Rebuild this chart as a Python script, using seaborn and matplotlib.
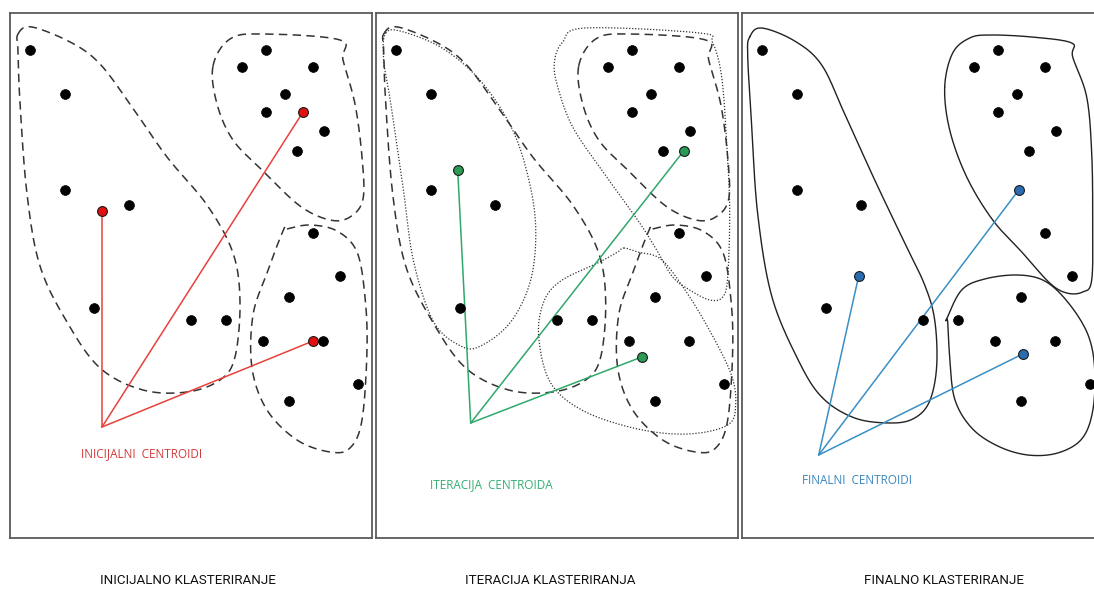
import numpy as np
import matplotlib
matplotlib.use("Agg")
import matplotlib.pyplot as plt
import seaborn as sns
import pandas as pd

sns.set_style("white")

# ---------------- data (panel-local pixel coordinates) ----------------
point_x = [30, 65, 65, 129, 94, 191, 226,
           266, 242, 313, 285, 266, 324, 297,
           313, 340, 289, 263, 323, 358, 289]
point_y = [50, 94, 190, 205, 308, 320, 320,
           50, 67, 67, 94, 112, 131, 151,
           233, 276, 297, 341, 341, 384, 401]

centroid_x = {"init": [102, 303, 313], "iter": [92, 318, 276], "final": [287, 127, 291]}
centroid_y = {"init": [211, 112, 341], "iter": [170, 151, 357], "final": [190, 276, 354]}
apex = {"init": (102, 427), "iter": (105, 423), "final": (87, 455)}

labels_centroid = {"init": "INICIJALNI  CENTROIDI", "iter": "ITERACIJA  CENTROIDA",
                   "final": "FINALNI  CENTROIDI"}
label_pos = {"init": (81, 454), "iter": (64, 485), "final": (70, 481)}
titles = ["INICIJALNO KLASTERIRANJE", "ITERACIJA KLASTERIRANJA", "FINALNO KLASTERIRANJE"]

# cluster outlines (control points)
init_left = [(18, 34), (32, 27), (72, 43), (100, 64), (130, 104), (167, 157), (207, 205),
             (233, 253), (240, 302), (235, 357), (220, 380), (187, 392), (143, 390),
             (100, 368), (67, 322), (40, 266), (27, 194), (20, 103), (18, 51)]
init_tr = [(213, 66), (230, 39), (263, 34), (340, 40), (343, 60), (355, 104), (362, 157),
           (363, 199), (350, 217), (330, 220), (300, 206), (263, 171), (233, 140), (217, 104)]
init_br = [(287, 229), (310, 225), (337, 231), (357, 252), (365, 297), (367, 350), (362, 420),
           (350, 448), (330, 452), (297, 440), (267, 410), (252, 368), (253, 315),
           (267, 273), (283, 231)]
iter_left = [(20, 33), (38, 32), (78, 49), (115, 81), (145, 126), (162, 175), (170, 227),
             (165, 280), (145, 322), (115, 346), (95, 346), (68, 322), (48, 262), (38, 192),
             (25, 103), (18, 60)]
iter_tr = [(189, 60), (197, 42), (219, 28), (334, 33), (347, 43), (356, 77), (361, 143),
           (364, 210), (362, 277), (357, 297), (344, 300), (324, 290), (307, 277),
           (291, 250), (274, 223), (241, 177), (207, 127), (191, 83)]
iter_br = [(258, 248), (272, 252), (295, 259), (318, 288), (342, 327), (365, 373), (370, 404),
           (362, 425), (322, 434), (272, 429), (218, 411), (185, 383), (173, 337),
           (178, 302), (195, 281), (232, 263), (252, 252)]
final_left = [(18, 37), (30, 28), (63, 41), (90, 65), (113, 114), (143, 180), (173, 243),
              (193, 285), (203, 320), (205, 366), (198, 401), (183, 418), (160, 423),
              (123, 418), (90, 397), (66, 359), (40, 296), (26, 214), (20, 126), (16, 56)]
final_tr = [(213, 87), (221, 53), (238, 38), (258, 35), (300, 37), (340, 43), (341, 57),
            (355, 97), (360, 153), (361, 220), (360, 280), (351, 292), (335, 293),
            (318, 283), (291, 253), (261, 220), (235, 177), (218, 130)]
final_br = [(215, 319), (230, 290), (253, 279), (286, 275), (313, 281), (336, 302),
            (356, 334), (363, 369), (361, 411), (350, 439), (326, 453), (296, 455),
            (266, 446), (240, 428), (223, 399), (218, 357), (216, 322)]

# ---------------- helpers ----------------
def closed_spline(pts, n=20):
    p = np.asarray(pts, dtype=float)
    m = len(p)
    out = []
    for i in range(m):
        p0, p1, p2, p3 = p[(i - 1) % m], p[i], p[(i + 1) % m], p[(i + 2) % m]
        t = np.linspace(0, 1, n, endpoint=False)[:, None]
        seg = 0.5 * ((2 * p1) + (-p0 + p2) * t + (2 * p0 - 5 * p1 + 4 * p2 - p3) * t ** 2
                     + (-p0 + 3 * p1 - 3 * p2 + p3) * t ** 3)
        out.append(seg)
    out = np.vstack(out + [p[:1]])
    return out[:, 0], out[:, 1]


W, H = 1094, 590
fig = plt.figure(figsize=(W / 100, H / 100), dpi=100)

panel_left = [10, 375.7, 741.7]
frame_w, frame_top, frame_bot = 362, 13, 538

keys = ["init", "iter", "final"]
line_col = {"init": "#e8413c", "iter": "#2fa86a", "final": "#3a8fc4"}
dot_col = {"init": "#e01010", "iter": "#2a9a55", "final": "#2b6cb0"}
txt_col = {"init": "#d43a3a", "iter": "#34ad72", "final": "#3a86bd"}

dash = (0, (5.5, 3.5))
dot = (0, (1, 1.4))

pts_df = pd.DataFrame({"x": point_x, "y": point_y})

for i, k in enumerate(keys):
    ax = fig.add_axes([panel_left[i] / W, (H - frame_bot) / H, frame_w / W,
                       (frame_bot - frame_top) / H])
    ax.set_xlim(10, 10 + frame_w)
    ax.set_ylim(frame_bot, frame_top)
    ax.set_xticks([])
    ax.set_yticks([])
    for s in ax.spines.values():
        s.set_color("#5a5a5a")
        s.set_linewidth(1.3)
        s.set_visible(True)

    if k in ("init", "iter"):
        for shp in (init_left, init_tr, init_br):
            xs, ys = closed_spline(shp)
            ax.plot(xs, ys, color="#333333", lw=1.1, ls=dash)
    if k == "iter":
        for shp in (iter_left, iter_tr, iter_br):
            xs, ys = closed_spline(shp)
            ax.plot(xs, ys, color="#333333", lw=0.9, ls=dot)
    if k == "final":
        for shp in (final_left, final_tr, final_br):
            xs, ys = closed_spline(shp)
            ax.plot(xs, ys, color="#222222", lw=1.0)

    ax_x, ax_y = apex[k]
    for cx, cy in zip(centroid_x[k], centroid_y[k]):
        ax.plot([ax_x, cx], [ax_y, cy], color=line_col[k], lw=1.1, zorder=3)

    sns.scatterplot(data=pts_df, x="x", y="y", ax=ax, color="black", s=50,
                    edgecolor="black", linewidth=0.5, zorder=4, legend=False)
    cdf = pd.DataFrame({"x": centroid_x[k], "y": centroid_y[k]})
    sns.scatterplot(data=cdf, x="x", y="y", ax=ax, color=dot_col[k], s=50,
                    edgecolor="#1a1a1a", linewidth=0.8, zorder=5, legend=False)
    ax.set_xlabel("")
    ax.set_ylabel("")

    lx, ly = label_pos[k]
    ax.text(lx, ly, labels_centroid[k], color=txt_col[k], fontsize=8.5,
            family=["Open Sans", "DejaVu Sans"], va="center", ha="left")

title_cx = [188, 550, 944]
for cx, t in zip(title_cx, titles):
    fig.text(cx / W, 1 - 583.5 / H, t, ha="center", va="baseline", fontsize=9.6,
             family=["Roboto", "DejaVu Sans"], color="#111111")

fig.savefig("out.png", dpi=100, facecolor="white")
